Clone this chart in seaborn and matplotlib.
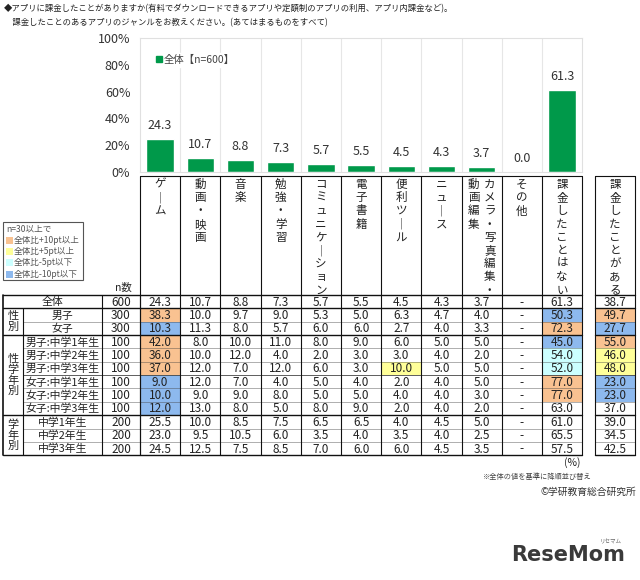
import numpy as np
import pandas as pd
import matplotlib
matplotlib.use("Agg")
import matplotlib.pyplot as plt
import seaborn as sns
from matplotlib.patches import Rectangle, Patch

sns.set_theme(style="white")
plt.rcParams['font.family'] = ['Noto Sans CJK JP', 'DejaVu Sans']

# ---------------- data ----------------
title_lines = [
    "◆アプリに課金したことがありますか(有料でダウンロードできるアプリや定額制のアプリの利用、アプリ内課金など)。",
    "　課金したことのあるアプリのジャンルをお教えください。(あてはまるものをすべて)",
]
categories = ["ゲーム", "動画・映画", "音楽", "勉強・学習", "コミュニケーション", "電子書籍",
              "便利ツール", "ニュース", "カメラ・写真編集・動画編集", "その他", "課金したことはない"]
overall = [24.3, 10.7, 8.8, 7.3, 5.7, 5.5, 4.5, 4.3, 3.7, 0.0, 61.3]
legend_label = "全体【n=600】"
yticks = [0, 20, 40, 60, 80, 100]

paid_label = "課金したことがある"
row_labels = ["全体", "男子", "女子", "男子:中学1年生", "男子:中学2年生", "男子:中学3年生",
              "女子:中学1年生", "女子:中学2年生", "女子:中学3年生", "中学1年生", "中学2年生", "中学3年生"]
row_n = [600, 300, 300, 100, 100, 100, 100, 100, 100, 200, 200, 200]
row_values = [
    [24.3, 10.7, 8.8, 7.3, 5.7, 5.5, 4.5, 4.3, 3.7, None, 61.3],
    [38.3, 10.0, 9.7, 9.0, 5.3, 5.0, 6.3, 4.7, 4.0, None, 50.3],
    [10.3, 11.3, 8.0, 5.7, 6.0, 6.0, 2.7, 4.0, 3.3, None, 72.3],
    [42.0, 8.0, 10.0, 11.0, 8.0, 9.0, 6.0, 5.0, 5.0, None, 45.0],
    [36.0, 10.0, 12.0, 4.0, 2.0, 3.0, 3.0, 4.0, 2.0, None, 54.0],
    [37.0, 12.0, 7.0, 12.0, 6.0, 3.0, 10.0, 5.0, 5.0, None, 52.0],
    [9.0, 12.0, 7.0, 4.0, 5.0, 4.0, 2.0, 4.0, 5.0, None, 77.0],
    [10.0, 9.0, 9.0, 8.0, 5.0, 5.0, 4.0, 4.0, 3.0, None, 77.0],
    [12.0, 13.0, 8.0, 5.0, 8.0, 9.0, 2.0, 4.0, 2.0, None, 63.0],
    [25.5, 10.0, 8.5, 7.5, 6.5, 6.5, 4.0, 4.5, 5.0, None, 61.0],
    [23.0, 9.5, 10.5, 6.0, 3.5, 4.0, 3.5, 4.0, 2.5, None, 65.5],
    [24.5, 12.5, 7.5, 8.5, 7.0, 6.0, 6.0, 4.5, 3.5, None, 57.5],
]
paid_values = [38.7, 49.7, 27.7, 55.0, 46.0, 48.0, 23.0, 23.0, 37.0, 39.0, 34.5, 42.5]
groups = [("性\n別", 1, 2), ("性\n学\n年\n別", 3, 8), ("学\n年\n別", 9, 11)]
legend_texts = ["n=30以上で", "全体比+10pt以上", "全体比+5pt以上", "全体比-5pt以下", "全体比-10pt以下"]
note_texts = ["(%)", "※全体の値を基準に降順並び替え", "©学研教育総合研究所"]

# ---------------- style ----------------
GREEN = "#00994A"
C_P10, C_P5, C_M5, C_M10 = "#F9C291", "#FFFF99", "#CCFFFF", "#8DB9EE"
TXT = "#222222"

def cell_color(v, base, n):
    if v is None or n < 30:
        return None
    d = round(v - base, 1)
    if d >= 10: return C_P10
    if d >= 5: return C_P5
    if d <= -10: return C_M10
    if d <= -5: return C_M5
    return None

W, H = 640, 580
col_x0, col_w = 140.0, 40.2
ncol = len(categories)
col_x1 = col_x0 + ncol * col_w
n_x0, n_x1 = 102.0, 140.0
lab_x0, grp_x0 = 23.0, 3.0
paid_x0, paid_x1 = 595.0, 635.0
header_top, table_top, row_h = 176.0, 295.0, 13.35
nrows = len(row_labels)
table_bot = table_top + nrows * row_h

fig = plt.figure(figsize=(W / 100, H / 100), dpi=100)
tab = fig.add_axes([0, 0, 1, 1])
tab.set_xlim(0, W); tab.set_ylim(H, 0); tab.axis('off')
tab.patch.set_alpha(0)

# title
tab.text(4, 9, title_lines[0], fontsize=6.0, color=TXT, va='center', ha='left')
tab.text(4, 23, title_lines[1], fontsize=6.0, color=TXT, va='center', ha='left')

# ---------------- bar chart ----------------
ax = fig.add_axes([col_x0 / W, (H - 172) / H, (col_x1 - col_x0) / W, 134 / H])
df = pd.DataFrame({"cat": categories, "val": overall})
sns.barplot(data=df, x="cat", y="val", color=GREEN, saturation=1, width=0.68, ax=ax)
ax.set_ylim(0, 100); ax.set_xlim(-0.5, ncol - 0.5)
ax.set_xticks([]); ax.set_xlabel(""); ax.set_ylabel("")
ax.set_yticks(yticks)
ax.set_yticklabels([f"{v}%" for v in yticks])
ax.tick_params(axis='y', length=0, pad=7, labelsize=9, colors="#333333")
for i in range(1, ncol):
    ax.axvline(i - 0.5, color="#e6e6e6", lw=0.8, zorder=0)
for s in ax.spines.values():
    s.set_color("#e0e0e0"); s.set_linewidth(0.8)
ax.bar_label(ax.containers[0], fmt="%.1f", padding=5, fontsize=9, color="#333333")
leg = ax.legend(handles=[Patch(color=GREEN)], labels=[legend_label], loc="upper left",
                bbox_to_anchor=(0.02, 0.93), fontsize=7.5, frameon=True, framealpha=1,
                edgecolor="white", handlelength=0.55, handleheight=0.55, handletextpad=0.2,
                borderpad=0.2, labelcolor="#444444")

# ---------------- table header ----------------
def vert(s):
    return "\n".join("｜" if ch == "ー" else ch for ch in s)

for i, lab in enumerate(categories):
    x = col_x0 + i * col_w
    cx = x + col_w / 2
    if len(lab) > 10:
        tab.text(cx + 8, header_top + 2, vert(lab[:9]), fontsize=8.3, linespacing=1.02,
                 ha='center', va='top', color=TXT)
        tab.text(cx - 8, header_top + 2, vert(lab[9:]), fontsize=8.3, linespacing=1.02,
                 ha='center', va='top', color=TXT)
    else:
        tab.text(cx, header_top + 2, vert(lab), fontsize=8.3, linespacing=1.02,
                 ha='center', va='top', color=TXT)
tab.text((paid_x0 + paid_x1) / 2, header_top + 2, vert(paid_label), fontsize=8.3,
         linespacing=1.02, ha='center', va='top', color=TXT)
tab.text((n_x0 + n_x1) / 2 + 2, table_top - 7, "n数", fontsize=7.5, ha='center', va='center', color=TXT)

# header lines
tab.plot([col_x0, col_x1], [header_top, header_top], color="#111", lw=0.8)
tab.plot([paid_x0, paid_x1], [header_top, header_top], color="#111", lw=0.8)
for k in range(ncol + 1):
    x = col_x0 + k * col_w
    tab.plot([x, x], [header_top, table_top], color="#111", lw=0.8)
for x in (paid_x0, paid_x1):
    tab.plot([x, x], [header_top, table_top], color="#111", lw=0.8)

# legend box
tab.add_patch(Rectangle((3, 222), 80, 58, facecolor="white", edgecolor="#555", lw=0.8))
tab.text(6, 229, legend_texts[0], fontsize=6.2, color="#555", va='center', ha='left')
for j, (txt, c) in enumerate(zip(legend_texts[1:], [C_P10, C_P5, C_M5, C_M10])):
    y = 240.5 + j * 11.2
    tab.add_patch(Rectangle((6, y - 3.5), 7, 7, facecolor=c, edgecolor='none'))
    tab.text(13.5, y, txt, fontsize=6.2, color="#555", va='center', ha='left')

# ---------------- table body ----------------
for r in range(nrows):
    y0 = table_top + r * row_h
    cy = y0 + row_h / 2
    base_n = row_n[r]
    for i in range(ncol):
        v = row_values[r][i]
        c = cell_color(v, row_values[0][i], base_n) if r > 0 else None
        x = col_x0 + i * col_w
        if c:
            tab.add_patch(Rectangle((x, y0), col_w, row_h, facecolor=c, edgecolor='none', zorder=1))
        tab.text(x + col_w / 2, cy + 0.5, "-" if v is None else f"{v:.1f}", fontsize=8.5,
                 ha='center', va='center', color=TXT, zorder=3)
    c = cell_color(paid_values[r], paid_values[0], base_n) if r > 0 else None
    if c:
        tab.add_patch(Rectangle((paid_x0, y0), paid_x1 - paid_x0, row_h, facecolor=c, edgecolor='none', zorder=1))
    tab.text((paid_x0 + paid_x1) / 2, cy + 0.5, f"{paid_values[r]:.1f}", fontsize=8.5,
             ha='center', va='center', color=TXT, zorder=3)
    tab.text((n_x0 + n_x1) / 2, cy + 0.5, str(base_n), fontsize=8.5, ha='center', va='center', color=TXT)
    if r == 0:
        tab.text((grp_x0 + n_x0) / 2, cy + 0.5, row_labels[r], fontsize=7.8, ha='center', va='center', color=TXT)
    else:
        tab.text((lab_x0 + n_x0) / 2, cy + 0.5, row_labels[r], fontsize=7.8, ha='center', va='center', color=TXT)

for g, r0, r1 in groups:
    cy = table_top + (r0 + r1 + 1) / 2 * row_h
    tab.text((grp_x0 + lab_x0) / 2, cy, g, fontsize=8, linespacing=1.05, ha='center', va='center', color=TXT)

# horizontal lines
group_edges = {0, 1, 3, 9, nrows}
for r in range(nrows + 1):
    y = table_top + r * row_h
    if r in group_edges:
        tab.plot([grp_x0, col_x1], [y, y], color="#111", lw=1.0, zorder=2)
        tab.plot([paid_x0, paid_x1], [y, y], color="#111", lw=1.0, zorder=2)
    else:
        ls = '-' if r == 6 else (0, (1.2, 1.2))
        tab.plot([lab_x0, col_x1], [y, y], color="#444", lw=0.6, ls=ls, zorder=2)
        tab.plot([paid_x0, paid_x1], [y, y], color="#444", lw=0.6, ls=ls, zorder=2)

# vertical lines
for x in [n_x0, n_x1] + [col_x0 + k * col_w for k in range(ncol + 1)] + [paid_x0, paid_x1]:
    tab.plot([x, x], [table_top, table_bot], color="#111", lw=0.8, zorder=2)
tab.plot([grp_x0, grp_x0], [table_top, table_bot], color="#111", lw=1.2, zorder=2)
tab.plot([lab_x0, lab_x0], [table_top + row_h, table_bot], color="#111", lw=0.8, zorder=2)

# notes
tab.text(572, 463, note_texts[0], fontsize=7.5, ha='center', va='center', color=TXT)
tab.text(592, 477, note_texts[1], fontsize=5.2, ha='right', va='center', color="#444")
tab.text(636, 492, note_texts[2], fontsize=7, ha='right', va='center', color="#333")

# watermark logo
tab.text(625, 555, "ReseMom", fontsize=15, fontweight='bold', ha='right', va='center',
         color="#3a3a3a", family=['DejaVu Sans'])
tab.text(622, 542, "リセマム", fontsize=4, ha='right', va='center', color="#666")

fig.savefig("out.png", dpi=100)
